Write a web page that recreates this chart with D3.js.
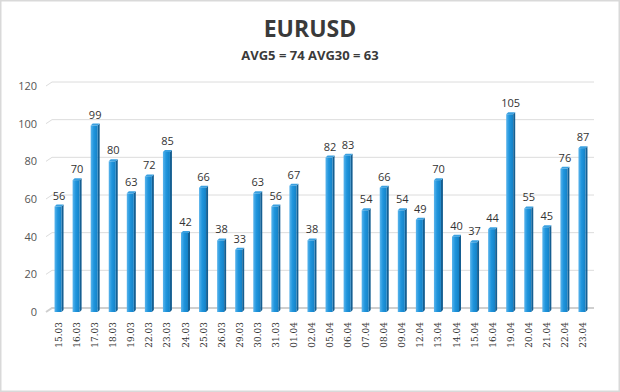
<!DOCTYPE html>
<html>
<head>
<meta charset="utf-8">
<script src="https://cdn.jsdelivr.net/npm/d3@7"></script>
<style>
  body { margin: 0; background: #fff; }
  svg { display: block; }
</style>
</head>
<body>
<div id="chart"></div>
<script>
const DATES = ["15.03","16.03","17.03","18.03","19.03","22.03","23.03","24.03","25.03","26.03",
  "29.03","30.03","31.03","01.04","02.04","05.04","06.04","07.04","08.04","09.04",
  "12.04","13.04","14.04","15.04","16.04","19.04","20.04","21.04","22.04","23.04"];
const VALUES = [56,70,99,80,63,72,85,42,66,38,33,63,56,67,38,82,83,54,66,54,49,70,40,37,44,105,55,45,76,87];
const Y_TICKS = [0,20,40,60,80,100,120];
const TITLE = "EURUSD";
const SUBTITLE = "AVG5 = 74 AVG30 = 63";

const W = 620, H = 392;
const DX = 6, DY = 4; // 3d wall offset

const svg = d3.select("#chart").append("svg")
    .attr("width", W)
    .attr("height", H);

// frame
svg.append("rect")
    .attr("x", 0.5).attr("y", 0.5)
    .attr("width", W - 1).attr("height", H - 1)
    .attr("fill", "#fff")
    .attr("stroke", "#d9d9d9")
    .attr("stroke-width", 2);

const defs = svg.append("defs");
const grad = defs.append("linearGradient").attr("id", "front")
    .attr("x1", "0").attr("x2", "1").attr("y1", "0").attr("y2", "0");
grad.append("stop").attr("offset", "0%").attr("stop-color", "#5ab4ec");
grad.append("stop").attr("offset", "45%").attr("stop-color", "#1f95dd");
grad.append("stop").attr("offset", "100%").attr("stop-color", "#1481c6");

// TITLES
svg.append("text")
    .attr("x", W / 2).attr("y", 37)
    .attr("text-anchor", "middle")
    .attr("font-family", "'Open Sans', sans-serif")
    .attr("font-weight", "bold")
    .attr("font-size", 23)
    .attr("fill", "#3a3a3a")
    .text(TITLE);
svg.append("text")
    .attr("x", W / 2).attr("y", 60)
    .attr("text-anchor", "middle")
    .attr("font-family", "'Open Sans', sans-serif")
    .attr("font-weight", "bold")
    .attr("font-size", 13)
    .attr("fill", "#3a3a3a")
    .text(SUBTITLE);

// SCALES
const y = d3.scaleLinear().domain([0, 120]).range([312, 86]);
const x = d3.scaleBand().domain(DATES).range([49, 591]).paddingInner(0.6).paddingOuter(0.3);

// GRID (back wall + floor)
const grid = svg.append("g");
Y_TICKS.forEach(t => {
    const yy = y(t);
    grid.append("path")
        .attr("d", `M46,${yy} L${46 + DX},${yy - DY} L594,${yy - DY}`)
        .attr("fill", "none")
        .attr("stroke", t === 0 ? "#cfcfcf" : "#dcdcdc")
        .attr("stroke-width", t === 0 ? 2 : 1);
    grid.append("text")
        .attr("x", 37).attr("y", yy + 4)
        .attr("text-anchor", "end")
        .attr("font-family", "'Open Sans', sans-serif")
        .attr("font-size", 11)
        .attr("fill", "#555")
        .text(t);
});

// BARS
const bw = 7, side = 2;
const bars = svg.append("g").selectAll("g").data(VALUES).enter().append("g");
bars.append("path")
    .attr("d", (v, i) => {
        const x0 = x(DATES[i]) + (x.bandwidth() - bw) / 2 + bw;
        return `M${x0},${y(v)} L${x0 + side},${y(v) - side} L${x0 + side},${y(0) - side} L${x0},${y(0)} Z`;
    })
    .attr("fill", "#155f92");
bars.append("path")
    .attr("d", (v, i) => {
        const x0 = x(DATES[i]) + (x.bandwidth() - bw) / 2;
        return `M${x0},${y(v)} L${x0 + side},${y(v) - side} L${x0 + bw + side},${y(v) - side} L${x0 + bw},${y(v)} Z`;
    })
    .attr("fill", "#3aa0e0");
bars.append("rect")
    .attr("x", (v, i) => x(DATES[i]) + (x.bandwidth() - bw) / 2)
    .attr("y", v => y(v))
    .attr("width", bw)
    .attr("height", v => y(0) - y(v))
    .attr("fill", "url(#front)");

// VALUE LABELS
svg.append("g").selectAll("text").data(VALUES).enter().append("text")
    .attr("x", (v, i) => x(DATES[i]) + x.bandwidth() / 2 + 1)
    .attr("y", v => y(v) - 7)
    .attr("text-anchor", "middle")
    .attr("font-family", "'Open Sans', sans-serif")
    .attr("font-size", 11)
    .attr("fill", "#333")
    .text(v => v);

// X LABELS
svg.append("g").selectAll("text").data(DATES).enter().append("text")
    .attr("transform", d => `translate(${x(d) + x.bandwidth() / 2 + 4}, 322) rotate(-90)`)
    .attr("text-anchor", "end")
    .attr("font-family", "'DejaVu Serif', serif")
    .attr("font-size", 9)
    .attr("fill", "#333")
    .text(d => d);
</script>
</body>
</html>
